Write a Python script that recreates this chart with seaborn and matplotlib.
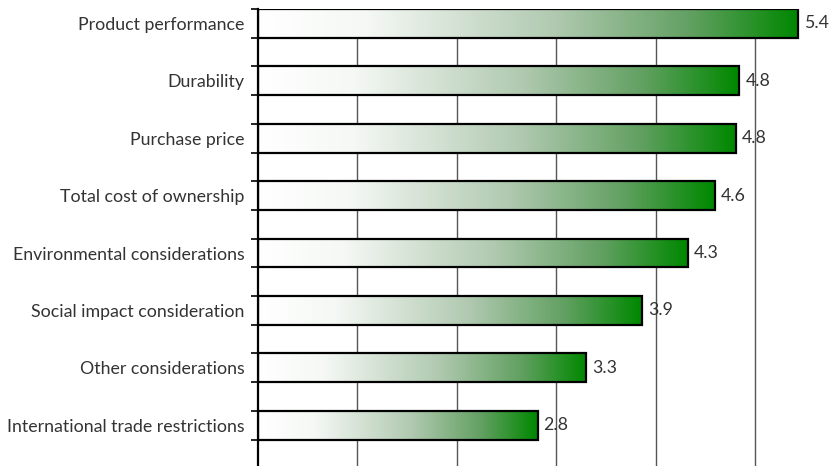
import numpy as np
import pandas as pd
import matplotlib
matplotlib.use('Agg')
import matplotlib.pyplot as plt
import seaborn as sns
from matplotlib.colors import LinearSegmentedColormap
from matplotlib.ticker import FixedLocator

# ---------------------------------------------------------------------------
# Data
# ---------------------------------------------------------------------------
categories = [
    'Product performance',
    'Durability',
    'Purchase price',
    'Total cost of ownership',
    'Environmental considerations',
    'Social impact consideration',
    'Other considerations',
    'International trade restrictions',
]
scores = [5.43, 4.84, 4.80, 4.59, 4.32, 3.86, 3.30, 2.81]

df = pd.DataFrame({'category': categories, 'score': scores})

sns.set_style('white')
plt.rcParams['font.family'] = ['Lato', 'DejaVu Sans']

W, H = 831, 466
fig = plt.figure(figsize=(W / 100, H / 100), dpi=100)
ax = fig.add_axes([258 / W, 0, 1 - 258 / W, (H - 9) / H])

sns.barplot(data=df, x='score', y='category', orient='h', width=0.5,
            facecolor='none', edgecolor='black', linewidth=1.6, ax=ax,
            zorder=3)

# white -> green gradient inside every bar
green = LinearSegmentedColormap.from_list(
    'fade', [(0, '#ffffff'), (0.2, '#f5f8f5'), (0.55, '#b0c9b0'),
             (0.8, '#62a062'), (1.0, '#008800')])
grad = np.linspace(0, 1, 256).reshape(1, -1)
for p in ax.patches:
    x0, y0 = p.get_x(), p.get_y()
    w, h = p.get_width(), p.get_height()
    im = ax.imshow(grad, cmap=green, aspect='auto', zorder=2,
                   extent=[x0, x0 + w, y0 + h, y0], interpolation='bilinear')
    im.set_clip_path(p)

# value labels
for i, v in enumerate(scores):
    ax.text(v + 0.06, i, f'{v:.1f}', va='center', ha='left',
            fontsize=12.8, color='#333333', zorder=4)

ax.set_xlim(0, 5.76)
ax.set_ylim(7.71, -0.25)
ax.set_aspect('auto')

ax.xaxis.set_major_locator(FixedLocator([1, 2, 3, 4, 5]))
ax.grid(axis='x', color='#555555', linewidth=1.0, zorder=0)
ax.grid(axis='y', visible=False)
ax.set_axisbelow(True)
ax.tick_params(axis='x', bottom=False, labelbottom=False)

ax.yaxis.set_minor_locator(FixedLocator(np.arange(-0.25, 7.8, 0.5)))
ax.tick_params(axis='y', which='major', length=0, pad=9.5,
               labelsize=12.8, labelcolor='#333333')
ax.tick_params(axis='y', which='minor', left=True, length=5, width=1.2,
               color='black', direction='out')

for s in ['top', 'right', 'bottom']:
    ax.spines[s].set_visible(False)
ax.spines['left'].set_color('black')
ax.spines['left'].set_linewidth(1.6)

ax.set_xlabel('')
ax.set_ylabel('')

fig.savefig('out.png', dpi=100)
